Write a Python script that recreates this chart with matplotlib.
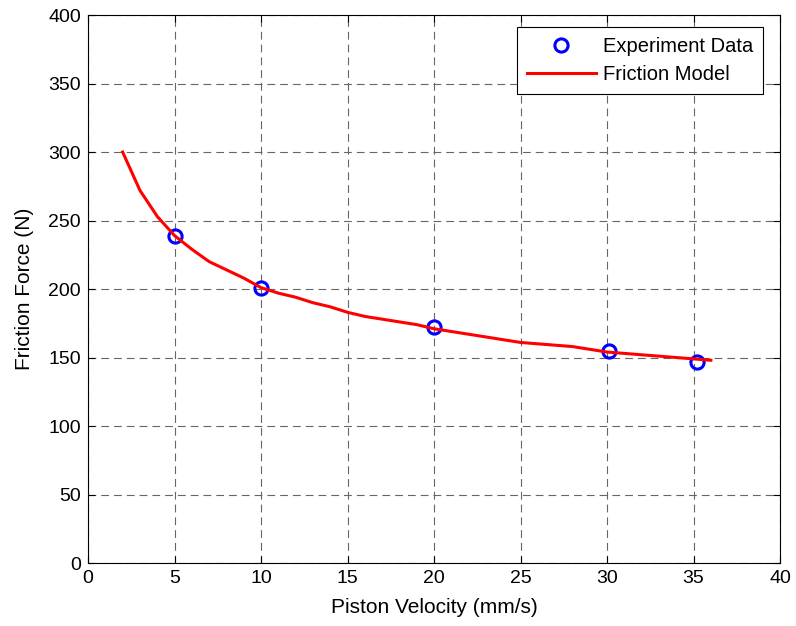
import matplotlib
matplotlib.use("Agg")
import matplotlib.pyplot as plt

plt.rcParams['font.family'] = ['Liberation Sans', 'DejaVu Sans']

# experiment points
exp_v = [5, 10, 20, 30.1, 35.2]
exp_f = [239, 201, 172, 154.5, 146.5]

# friction model curve
model_v = list(range(2, 37))
model_f = [300, 272, 253, 239, 229, 220, 214, 208, 201, 197,
           194, 190, 187, 183, 180, 178, 176, 174, 171, 169,
           167, 165, 163, 161, 160, 159, 158, 156, 154, 153,
           152, 151, 150, 149, 148]

fig = plt.figure(figsize=(7.96, 6.26), dpi=100)
ax = fig.add_axes([0.1106, 0.1006, 0.8694, 0.8754])

ax.plot(exp_v, exp_f, 'o', color='blue', markerfacecolor='none',
        markeredgewidth=2.2, markersize=9.5, label='Experiment Data')
ax.plot(model_v, model_f, '-', color='red', linewidth=2.2, label='Friction Model')

ax.set_xlim(0, 40)
ax.set_ylim(0, 400)
ax.set_xticks(range(0, 41, 5))
ax.set_yticks(range(0, 401, 50))
ax.grid(True, linestyle=(0, (7, 4.5)), color='#666666', linewidth=0.8)
ax.tick_params(direction='in', top=True, right=True, labelsize=14, length=5, pad=5)
for s in ax.spines.values():
    s.set_linewidth(0.8)

ax.set_xlabel('Piston Velocity (mm/s)', fontsize=15, labelpad=8)
ax.set_ylabel('Friction Force (N)', fontsize=15, labelpad=10)

leg = ax.legend(loc='upper right', bbox_to_anchor=(0.9754, 0.978), borderaxespad=0,
                fontsize=14.5, fancybox=False, framealpha=1, edgecolor='black',
                handlelength=3.4, handletextpad=0.35, borderpad=0.5, labelspacing=0.45)
leg.get_frame().set_linewidth(0.8)

fig.savefig('out.png', dpi=100)
